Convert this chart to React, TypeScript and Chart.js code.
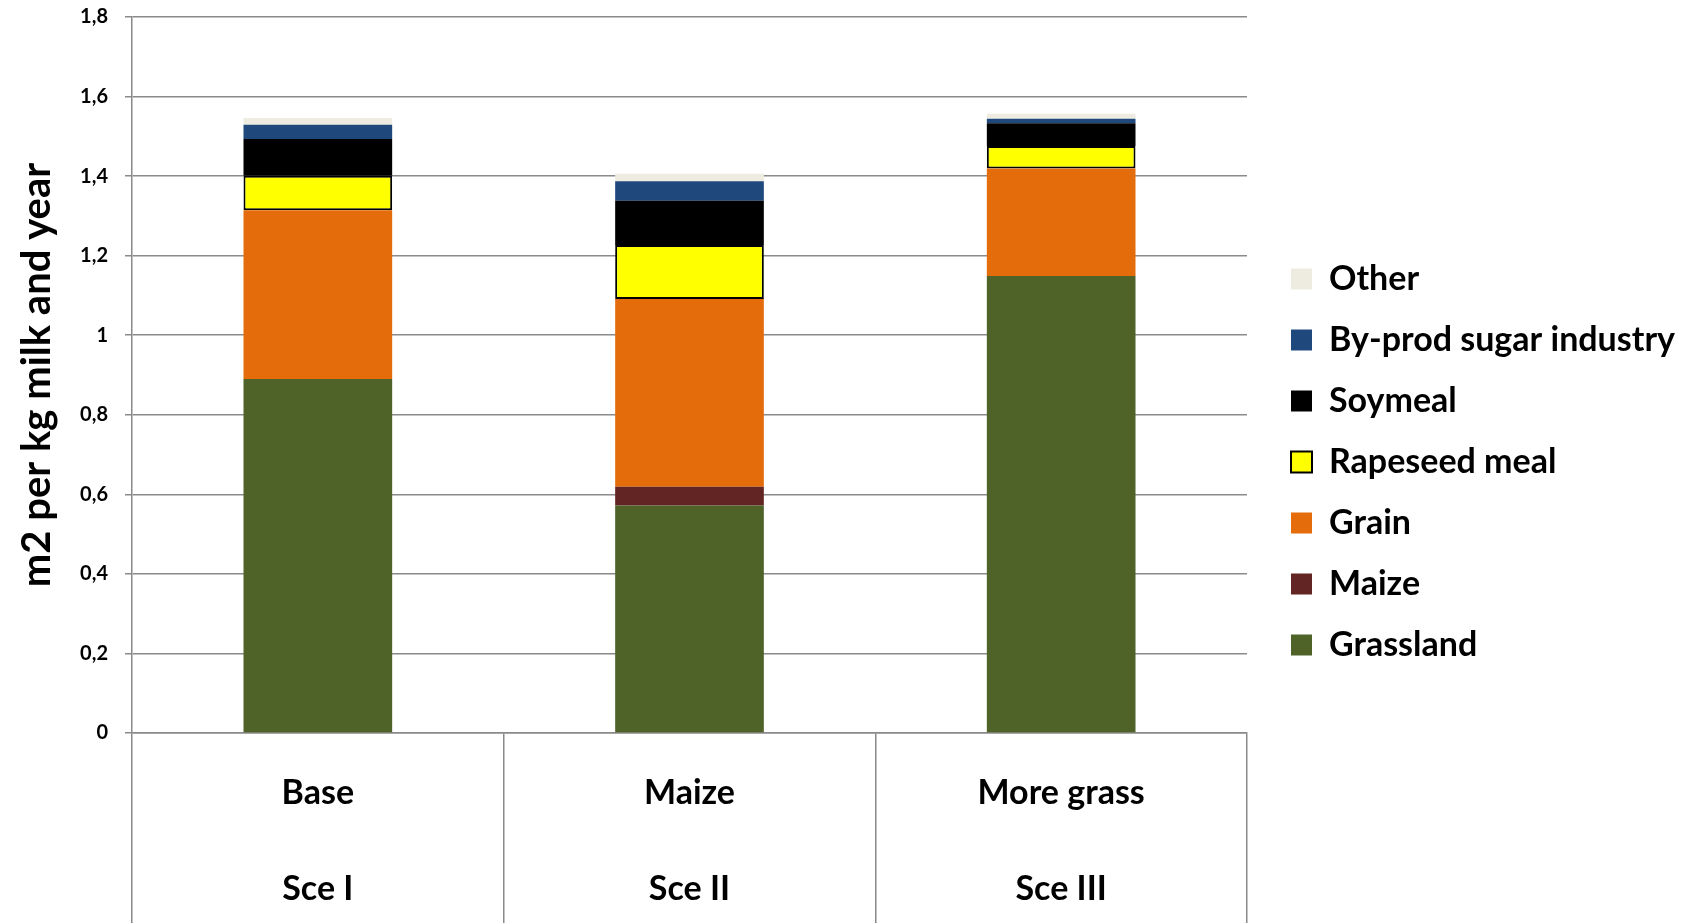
import React, { useEffect, useRef } from "react";
import { Chart, registerables } from "chart.js";

Chart.register(...registerables);

// Scenario labels: name on the first line, scenario code on the second
const scenarioNames = ["Base", "Maize", "More grass"];
const scenarioCodes = ["Sce I", "Sce II", "Sce III"];

// Land use per feed source (m2 per kg milk and year)
const grassland = [0.89, 0.572, 1.149];
const maize = [0, 0.047, 0];
const grain = [0.424, 0.472, 0.27];
const rapeseedMeal = [0.087, 0.136, 0.057];
const soymeal = [0.092, 0.111, 0.057];
const byProdSugar = [0.036, 0.049, 0.011];
const other = [0.017, 0.019, 0.013];

// Value axis
const yMin = 0;
const yMax = 1.8;
const yStep = 0.2;

const FONT = "Lato, 'Open Sans', sans-serif";
const AXIS_GREY = "#8a8a8a";

// Layout constants
const PLOT_TOP = 17;
const PLOT_LEFT = 132;
const PLOT_RIGHT = 1247;
const X_AXIS_HEIGHT = 190;
const LEGEND_BOX_LEFT = 1291;
const LEGEND_PADDING = 27;
const LEGEND_LIFT = 8;

// Fixes the legend column width so the plot ends where it should,
// then nudges the legend items to their column.
const legendPlacement = {
  id: "legendPlacement",
  beforeLayout(chart: any) {
    const lg = chart.legend;
    if (!lg || lg._fixedFit) return;
    const fit = lg.fit.bind(lg);
    lg.fit = () => {
      fit();
      lg.width = chart.width - PLOT_RIGHT;
    };
    lg._fixedFit = true;
  },
  afterLayout(chart: any) {
    const lg = chart.legend;
    if (!lg) return;
    const shift = LEGEND_BOX_LEFT - (lg.left + LEGEND_PADDING);
    lg.left += shift;
    lg.right += shift;
    lg.top -= LEGEND_LIFT;
    lg.bottom -= LEGEND_LIFT;
  },
};

export default function App() {
  const canvasRef = useRef<HTMLCanvasElement | null>(null);

  useEffect(() => {
    if (!canvasRef.current) return;
    const labels = scenarioNames.map((n, i) => [n, scenarioCodes[i]]);
    const plain = (label: string, data: number[], color: string) => ({
      label,
      data,
      backgroundColor: color,
      borderWidth: 0,
      stack: "land",
    });

    const chart = new Chart(canvasRef.current, {
      type: "bar",
      data: {
        labels,
        datasets: [
          plain("Grassland", grassland, "#4F6228"),
          plain("Maize", maize, "#632523"),
          plain("Grain", grain, "#E46C0A"),
          {
            label: "Rapeseed meal",
            data: rapeseedMeal,
            backgroundColor: "#FFFF00",
            borderColor: "#000000",
            borderWidth: 2,
            borderSkipped: false,
            stack: "land",
          },
          plain("Soymeal", soymeal, "#000000"),
          plain("By-prod sugar industry", byProdSugar, "#1F497D"),
          plain("Other", other, "#EEECE1"),
        ],
      },
      options: {
        animation: false,
        responsive: true,
        maintainAspectRatio: false,
        layout: { padding: { top: PLOT_TOP, left: 0, right: 0, bottom: 0 } },
        datasets: {
          bar: { categoryPercentage: 1, barPercentage: 0.4 },
        },
        plugins: {
          tooltip: { enabled: false },
          legend: {
            position: "right",
            align: "center",
            reverse: true,
            labels: {
              boxWidth: 21,
              boxHeight: 21,
              padding: LEGEND_PADDING,
              color: "#000000",
              font: { family: FONT, size: 34, weight: "bold" },
            },
          },
        },
        scales: {
          x: {
            stacked: true,
            offset: true,
            afterFit: (scale: any) => {
              scale.height = X_AXIS_HEIGHT;
            },
            border: { display: true, color: AXIS_GREY, width: 1.5 },
            grid: {
              display: true,
              offset: true,
              drawOnChartArea: false,
              drawTicks: true,
              tickLength: X_AXIS_HEIGHT,
              color: AXIS_GREY,
              lineWidth: 1.5,
            },
            ticks: {
              padding: -178,
              maxRotation: 0,
              autoSkip: false,
              color: "#000000",
              font: { family: FONT, size: 34, weight: "bold", lineHeight: 96 / 34 },
            },
          },
          y: {
            stacked: true,
            min: yMin,
            max: yMax,
            afterFit: (scale: any) => {
              scale.width = PLOT_LEFT;
              scale.paddingTop = 0;
              scale.paddingBottom = 0;
            },
            border: { display: true, color: AXIS_GREY, width: 1.5 },
            grid: {
              color: AXIS_GREY,
              lineWidth: 1.5,
              drawTicks: true,
              tickLength: 7,
            },
            ticks: {
              stepSize: yStep,
              padding: 17,
              color: "#000000",
              font: { family: FONT, size: 20, weight: "bold" },
              callback: (v: any) =>
                String(Math.round(Number(v) * 10) / 10).replace(".", ","),
            },
            title: {
              display: true,
              text: "m2 per kg milk and year",
              color: "#000000",
              padding: { top: 13, bottom: 0 },
              font: { family: FONT, size: 40, weight: "bold", lineHeight: 1.2 },
            },
          },
        },
      },
      plugins: [legendPlacement],
    });

    return () => chart.destroy();
  }, []);

  return (
    <div
      style={{
        position: "fixed",
        left: 0,
        top: 0,
        width: "100vw",
        height: "100vh",
        background: "#ffffff",
      }}
    >
      <canvas ref={canvasRef} />
    </div>
  );
}
